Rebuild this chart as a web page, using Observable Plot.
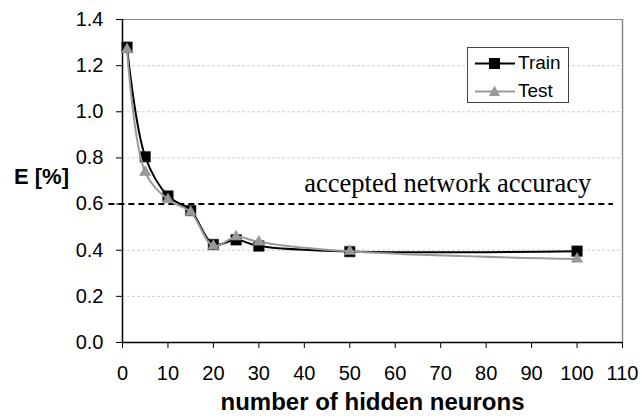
<!DOCTYPE html>
<html>
<head>
<meta charset="utf-8">
<script src="https://cdn.jsdelivr.net/npm/d3@7"></script>
<script src="https://cdn.jsdelivr.net/npm/@observablehq/plot@0.6"></script>
<style>
  html, body { margin: 0; padding: 0; background: #fff; }
  #wrap { position: relative; width: 642px; height: 418px; font-family: "Liberation Sans", Arial, sans-serif; }
  #legend { position: absolute; left: 467px; top: 47px; width: 100px; height: 54px;
            border: 1px solid #444; background: #fff; box-sizing: content-box; }
  #legend .row { position: absolute; left: 6px; height: 20px; display: flex; align-items: center; }
  #legend .row span { font-size: 19px; margin-left: 2px; color: #000; }
</style>
</head>
<body>
<div id="wrap"></div>
<script>
const neurons = [1, 5, 10, 15, 20, 25, 30, 50, 100];
const trainE  = [1.28, 0.805, 0.635, 0.572, 0.425, 0.445, 0.418, 0.394, 0.396];
const testE   = [1.27, 0.738, 0.62, 0.565, 0.418, 0.458, 0.436, 0.395, 0.362];
const yTicks  = [0, 0.2, 0.4, 0.6, 0.8, 1.0, 1.2, 1.4];
const xTicks  = [0, 10, 20, 30, 40, 50, 60, 70, 80, 90, 100, 110];
const gridY   = [0.2, 0.4, 0.8, 1.0, 1.2];
const threshold = 0.6;
const seriesNames = ["Train", "Test"];
const annotation = "accepted network accuracy";
const xTitle = "number of hidden neurons";
const yTitle = "E [%]";

const train = neurons.map((n, i) => ({x: n, y: trainE[i]}));
const test  = neurons.map((n, i) => ({x: n, y: testE[i]}));
const fmt = d3.format(".1f");

const chart = Plot.plot({
  width: 642,
  height: 418,
  marginLeft: 122,
  marginRight: 20,
  marginTop: 19,
  marginBottom: 76,
  style: {fontFamily: "'Liberation Sans', Arial, sans-serif", fontSize: "18px", color: "#000", background: "#fff"},
  x: {domain: [0, 110], label: null},
  y: {domain: [0, 1.4], label: null},
  marks: [
    Plot.ruleY(gridY, {stroke: "#cfcfcf", strokeDasharray: "3,2", strokeWidth: 1}),
    Plot.ruleY([1.4], {stroke: "#888", strokeWidth: 1}),
    Plot.ruleX([110], {stroke: "#888", strokeWidth: 1.5}),
    Plot.ruleY([threshold], {x1: -3, x2: 108, stroke: "#000", strokeWidth: 2, strokeDasharray: "6,4"}),
    Plot.axisX({ticks: xTicks, tickSize: 6, tickFormat: () => "", label: null, stroke: "#000"}),
    Plot.axisY({ticks: yTicks, tickSize: 6, tickFormat: () => "", label: null, stroke: "#000"}),
    Plot.text(xTicks, {x: d => d, y: 0, text: d => String(d), dy: 31, textAnchor: "middle", fontSize: 20, fill: "#000"}),
    Plot.text(yTicks, {x: 0, y: d => d, text: d => fmt(d), dx: -19, textAnchor: "end", fontSize: 20, fill: "#000"}),
    Plot.ruleX([0], {stroke: "#000", strokeWidth: 1.5}),
    Plot.ruleY([0], {stroke: "#000", strokeWidth: 1.5}),
    Plot.line(train, {x: "x", y: "y", curve: "catmull-rom", stroke: "#000", strokeWidth: 2}),
    Plot.dot(train, {x: "x", y: "y", symbol: "square", r: 6, fill: "#000", stroke: "#333", strokeWidth: 0.5}),
    Plot.line(test, {x: "x", y: "y", curve: "catmull-rom", stroke: "#9a9a9a", strokeWidth: 2}),
    Plot.dot(test, {x: "x", y: "y", symbol: "triangle", r: 4.2, fill: "#999", stroke: "#888", strokeWidth: 0.5}),
    Plot.text([annotation], {x: 40, y: threshold, text: d => d, textAnchor: "start", lineAnchor: "bottom", dy: -12,
      fontFamily: "'Liberation Serif', 'Times New Roman', serif", fontSize: 26.5, fill: "#000"}),
    Plot.text([xTitle], {frameAnchor: "bottom", text: d => d, textAnchor: "middle", dy: 67, fontWeight: "bold", fontSize: 24, fill: "#000"}),
    Plot.text([yTitle], {frameAnchor: "left", text: d => d, textAnchor: "middle", dx: -81, dy: -4, fontWeight: "bold", fontSize: 22, fill: "#000"})
  ]
});

const wrap = document.getElementById("wrap");
wrap.appendChild(chart);

const legend = document.createElement("div");
legend.id = "legend";
const swatches = [
  {name: seriesNames[0], stroke: "#000", fill: "#000", sym: "square"},
  {name: seriesNames[1], stroke: "#9a9a9a", fill: "#999", sym: "triangle"}
];
swatches.forEach((s, i) => {
  const row = document.createElement("div");
  row.className = "row";
  row.style.top = (5 + i * 28) + "px";
  const markSvg = s.sym === "square"
    ? `<rect x="15" y="5" width="11" height="11" fill="${s.fill}"/>`
    : `<path d="M20.5,4.5 L26,15 L15,15 Z" fill="${s.fill}"/>`;
  row.innerHTML = `<svg width="42" height="20"><line x1="1" x2="41" y1="10.5" y2="10.5" stroke="${s.stroke}" stroke-width="2"/>${markSvg}</svg><span>${s.name}</span>`;
  legend.appendChild(row);
});
wrap.appendChild(legend);
</script>
</body>
</html>
